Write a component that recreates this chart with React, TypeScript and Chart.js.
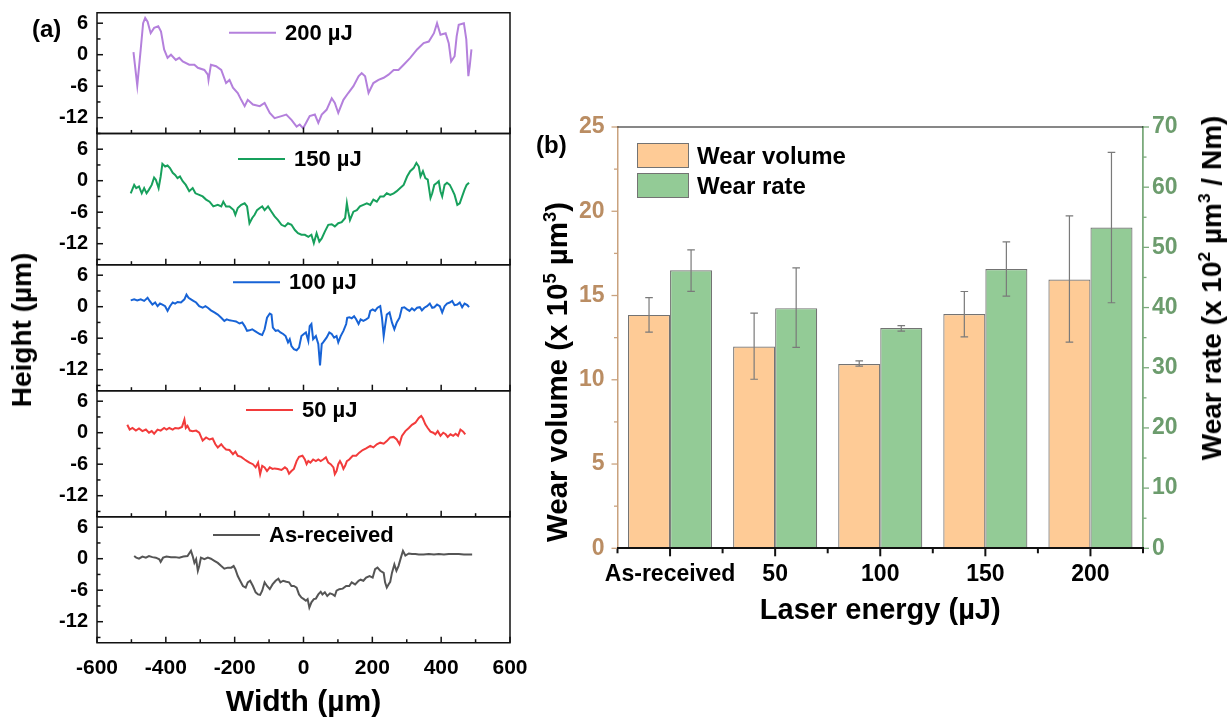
import React, { useEffect, useRef } from 'react';
import { Chart, registerables } from 'chart.js';

Chart.register(...registerables);

const FONT = "'Liberation Sans', Arial, Helvetica, sans-serif";
Chart.defaults.font.family = FONT;

// ---------------- Panel (a) data: [width (µm), height (µm)] ----------------
const PROFILE_200: [number, number][] = [
  [-494, 0.5], [-483, -5.9], [-473, 1.0], [-466, 6.0], [-460, 7.0], [-453, 6.3], [-444, 4.1], [-434, 5.1], [-422, 5.4], [-414, 4.4],
  [-405, 1.0], [-395, -0.6], [-385, 0], [-371, -1.0], [-361, -0.6], [-351, -1.3], [-332, -1.9], [-317, -1.9], [-307, -2.5], [-288, -2.9],
  [-278, -3.8], [-276, -4.8], [-269, -1.9], [-254, -2.2], [-239, -2.9], [-225, -5.4], [-215, -4.8], [-205, -6.3], [-191, -7.3], [-181, -8.6],
  [-171, -9.8], [-162, -8.6], [-147, -9.5], [-127, -9.8], [-113, -9.2], [-98, -11.1], [-84, -12.1], [-64, -11.7], [-50, -11.4], [-35, -12.4],
  [-20, -13.7], [-11, -13.3], [-1, -14.0], [18, -11.7], [33, -11.4], [43, -13.0], [53, -11.4], [67, -10.5], [82, -8.3], [91, -9.2],
  [101, -11.1], [116, -8.6], [130, -7.3], [145, -6.0], [160, -4.1], [169, -3.5], [179, -4.1], [189, -7.3], [203, -5.4], [218, -4.8],
  [233, -4.4], [247, -3.8], [262, -2.9], [276, -2.9], [291, -1.9], [310, -0.6], [330, 1.0], [349, 2.2], [364, 2.5], [379, 4.1],
  [388, 6.0], [398, 3.8], [413, 4.1], [422, 2.2], [429, -1.3], [439, -0.3], [445, 3.5], [451, 5.7], [466, 6.0], [473, 2.9],
  [479, -4.1], [483, -2.2], [488, 1.0],
];

const PROFILE_150: [number, number][] = [
  [-502, -2.4], [-492, -0.8], [-486, -1.4], [-478, -1.1], [-470, -2.4], [-463, -1.4], [-456, -2.4], [-449, -1.7], [-441, -0.8], [-434, 0.6],
  [-429, 0.2], [-421, -1.4], [-415, 0.8], [-410, 3.2], [-402, 2.7], [-395, 2.9], [-388, 2.4], [-380, 1.5], [-373, 1.1], [-366, 0.5],
  [-359, 0.8], [-351, -0.1], [-342, -0.8], [-332, -2.0], [-322, -1.4], [-314, -2.4], [-303, -2.7], [-293, -3.0], [-283, -3.6], [-273, -4.0],
  [-262, -4.9], [-249, -4.6], [-239, -4.9], [-233, -4.0], [-225, -4.9], [-215, -4.9], [-203, -5.6], [-198, -6.5], [-191, -5.2], [-181, -4.6],
  [-171, -4.3], [-164, -4.9], [-157, -8.1], [-149, -7.1], [-142, -6.5], [-135, -5.6], [-127, -5.2], [-120, -4.9], [-113, -5.6], [-103, -4.9],
  [-93, -5.9], [-84, -6.8], [-74, -7.5], [-64, -8.4], [-54, -8.7], [-45, -8.1], [-35, -8.4], [-25, -9.4], [-16, -10.0], [-6, -10.3],
  [4, -10.3], [14, -10.7], [23, -10.3], [30, -11.9], [38, -10.0], [46, -11.6], [53, -11.0], [62, -9.7], [72, -8.4], [82, -8.3],
  [91, -8.7], [101, -8.1], [111, -7.9], [121, -7.1], [126, -4.3], [130, -5.9], [135, -7.5], [145, -5.9], [155, -5.6], [164, -4.9],
  [174, -4.6], [184, -4.3], [194, -4.6], [203, -3.6], [213, -4.0], [223, -3.0], [233, -3.0], [242, -2.4], [252, -2.7], [262, -2.4],
  [271, -2.0], [281, -1.4], [291, -0.8], [301, 0.8], [310, 1.8], [320, 2.4], [328, 3.4], [335, 2.7], [340, 0.8], [347, 1.8],
  [354, 0.5], [361, 0.2], [369, -3.3], [374, -2.4], [380, -0.8], [388, -0.4], [393, -0.1], [398, -2.0], [403, -3.0], [410, -0.8],
  [417, -0.4], [425, -0.8], [432, -1.7], [439, -2.7], [447, -4.6], [454, -4.3], [461, -3.0], [468, -1.7], [474, -0.8], [481, -0.4],
];

const PROFILE_100: [number, number][] = [
  [-502, 1.2], [-492, 1.4], [-483, 1.2], [-473, 1.4], [-463, 1.1], [-453, 1.7], [-447, 1.1], [-439, 0.4], [-431, 0.8], [-424, 0.1],
  [-417, 0.6], [-410, 0.4], [-402, 0.1], [-395, -0.8], [-388, 0.1], [-380, 0.8], [-373, 0.6], [-366, 0.9], [-356, 0.8], [-346, 1.4],
  [-340, 2.3], [-334, 1.7], [-327, 1.4], [-320, 1.1], [-312, 0.8], [-303, 0.1], [-293, -0.2], [-285, 0.1], [-278, -0.2], [-269, -0.7],
  [-259, -1.1], [-249, -1.5], [-239, -2.1], [-230, -2.7], [-223, -2.4], [-215, -2.6], [-205, -2.7], [-196, -2.8], [-186, -3.2], [-178, -3.0],
  [-171, -3.7], [-164, -4.6], [-157, -4.5], [-149, -4.3], [-142, -4.6], [-135, -4.9], [-127, -5.2], [-120, -5.4], [-113, -4.3], [-106, -2.1],
  [-98, -1.3], [-93, -1.5], [-89, -4.0], [-81, -4.6], [-74, -4.5], [-67, -4.9], [-59, -5.2], [-52, -5.6], [-45, -6.8], [-40, -6.2],
  [-35, -7.5], [-28, -8.1], [-20, -8.3], [-13, -7.8], [-6, -5.6], [1, -5.2], [7, -4.9], [14, -6.5], [18, -3.7], [23, -3.3],
  [28, -6.2], [36, -5.6], [43, -7.1], [48, -11.2], [53, -7.1], [57, -6.8], [67, -5.9], [75, -4.9], [82, -5.2], [89, -5.9],
  [96, -5.6], [101, -6.8], [108, -5.6], [116, -4.6], [124, -3.3], [127, -2.1], [133, -2.0], [140, -2.2], [147, -1.8], [153, -2.4],
  [160, -3.3], [166, -2.4], [174, -2.7], [182, -2.4], [189, -2.1], [194, -0.8], [201, -0.5], [208, -0.8], [215, -0.2], [223, 0.1],
  [228, -2.1], [233, -5.6], [237, -3.7], [242, -1.5], [250, -1.1], [257, -3.0], [264, -4.3], [271, -3.0], [279, -2.1], [286, -0.2],
  [293, -0.1], [301, -0.5], [308, -0.8], [315, -0.3], [322, -0.7], [330, -0.2], [338, -0.1], [344, -0.7], [351, -0.2], [359, 0.1],
  [367, 0.6], [374, -0.2], [380, -0.1], [388, 0.4], [396, 0.1], [403, -1.1], [410, 0.1], [417, 0.6], [425, 0.8], [432, 1.1],
  [439, 0.3], [447, 0.4], [454, 0.8], [461, -0.1], [468, 0.6], [476, 0.3], [481, -0.1],
];

const PROFILE_50: [number, number][] = [
  [-512, 1.5], [-505, 0.6], [-497, 0.9], [-487, 0.4], [-478, 0.8], [-468, 0.3], [-458, 0.6], [-449, 0], [-441, 0.3], [-434, -0.2],
  [-424, 0.6], [-415, 0.4], [-405, 0.9], [-398, 0.6], [-390, 0.9], [-380, 0.6], [-373, 0.9], [-363, 0.8], [-353, 1.1], [-346, 2.5],
  [-342, 0.9], [-337, 1.3], [-330, 0.4], [-322, 0.3], [-312, 0.4], [-303, 0], [-293, -1.5], [-283, -0.9], [-273, -1.3], [-264, -1.1],
  [-256, -2.2], [-249, -2.8], [-239, -2.2], [-233, -2.7], [-225, -3.2], [-215, -3.3], [-205, -4.1], [-198, -3.6], [-191, -4.4], [-181, -4.6],
  [-171, -5.1], [-164, -5.4], [-157, -5.7], [-147, -6.0], [-139, -6.6], [-132, -5.7], [-126, -7.9], [-120, -6.3], [-113, -6.6], [-106, -7.3],
  [-98, -6.6], [-90, -6.9], [-84, -6.8], [-74, -6.9], [-64, -7.1], [-54, -6.6], [-48, -6.9], [-42, -7.8], [-35, -7.3], [-28, -6.9],
  [-20, -5.4], [-13, -4.6], [-3, -4.4], [4, -5.1], [9, -6.0], [14, -5.4], [20, -5.7], [28, -5.1], [36, -5.4], [43, -5.1],
  [50, -5.4], [57, -5.1], [65, -4.7], [72, -5.7], [79, -6.0], [87, -6.6], [91, -7.9], [96, -7.3], [101, -6.0], [106, -5.4],
  [111, -6.0], [116, -6.9], [121, -6.3], [126, -5.4], [133, -5.1], [143, -4.4], [153, -4.4], [162, -3.8], [172, -3.3], [182, -3.0],
  [194, -2.5], [203, -2.8], [213, -2.2], [223, -1.9], [233, -2.1], [242, -1.6], [252, -0.9], [262, -0.8], [271, -1.3], [279, -2.2],
  [286, -0.6], [296, 0.3], [306, 0.9], [315, 1.5], [325, 1.9], [335, 2.8], [342, 3.2], [347, 2.7], [354, 1.6], [361, 0.9],
  [369, 0.2], [377, 0], [383, -0.3], [390, 0.3], [398, -0.6], [406, 0], [413, -0.3], [419, -0.8], [427, -0.3], [435, -0.6],
  [442, -0.2], [449, -0.6], [456, 0.6], [464, 0.2], [470, -0.3],
];

const PROFILE_AS_RECEIVED: [number, number][] = [
  [-492, 0.5], [-486, 0.2], [-478, 0], [-468, 0.4], [-458, 0.2], [-449, 0.5], [-439, 0.3], [-429, 0.2], [-419, -0.1], [-415, -0.6],
  [-408, 0.2], [-398, 0.4], [-385, 0.3], [-373, 0.3], [-361, 0.2], [-349, 0.4], [-337, 0.5], [-327, 1.5], [-322, 0.5], [-317, -0.8],
  [-312, -0.1], [-307, -2.3], [-303, -1.4], [-298, 0.2], [-288, -0.1], [-278, 0.2], [-269, 0], [-259, -0.4], [-249, -0.8], [-239, -1.4],
  [-230, -1.9], [-220, -1.7], [-210, -1.7], [-203, -1.4], [-198, -2.0], [-191, -3.3], [-184, -4.2], [-176, -5.2], [-168, -5.5], [-162, -4.5],
  [-155, -4.2], [-147, -5.2], [-139, -6.4], [-132, -6.8], [-126, -6.9], [-120, -6.1], [-113, -4.5], [-106, -5.2], [-98, -5.8], [-90, -4.9],
  [-81, -4.2], [-73, -3.8], [-67, -4.5], [-59, -4.2], [-50, -4.4], [-42, -4.5], [-35, -5.2], [-28, -5.2], [-20, -5.5], [-13, -6.8],
  [-6, -7.4], [1, -7.7], [7, -8.0], [12, -7.7], [17, -9.3], [23, -8.3], [30, -7.7], [36, -7.6], [43, -6.8], [50, -6.3],
  [55, -6.8], [62, -6.4], [69, -7.1], [77, -6.6], [85, -6.8], [91, -7.1], [96, -6.1], [104, -5.8], [114, -5.7], [124, -5.2],
  [133, -5.2], [140, -4.5], [150, -4.9], [160, -4.2], [166, -4.0], [174, -4.2], [182, -3.6], [192, -3.3], [201, -3.6], [208, -2.0],
  [215, -1.7], [223, -2.3], [233, -2.7], [237, -4.5], [242, -5.5], [247, -4.9], [252, -4.4], [257, -2.7], [264, -1.1], [270, -2.3],
  [276, -1.4], [283, 0.2], [289, 1.5], [296, 0.6], [306, 1.0], [315, 0.9], [325, 0.9], [335, 0.8], [349, 0.8], [364, 0.9],
  [379, 0.8], [393, 0.9], [408, 0.8], [422, 0.9], [437, 0.9], [451, 0.9], [466, 0.8], [481, 0.8], [490, 0.8],
];

const PROFILE_LABELS = ['200 µJ', '150 µJ', '100 µJ', '50 µJ', 'As-received'];
const WIDTH_TICKS = [-600, -400, -200, 0, 200, 400, 600];
const WIDTH_MINOR = [-500, -300, -100, 100, 300, 500];
const HEIGHT_TICKS = [-12, -6, 0, 6];
const HEIGHT_MINOR = [-15, -9, -3, 3];

// ---------------- Panel (b) data ----------------
const ENERGY_LABELS = ['As-received', '50', '100', '150', '200'];
const WEAR_VOLUME = [13.85, 11.97, 10.94, 13.9, 15.95];
const WEAR_VOLUME_LOW = [12.83, 10.03, 10.81, 12.55, 12.23];
const WEAR_VOLUME_HIGH = [14.88, 13.95, 11.12, 15.24, 19.73];
const WEAR_RATE = [46.2, 39.9, 36.6, 46.4, 53.3];
const WEAR_RATE_LOW = [42.7, 33.4, 36.1, 41.9, 40.8];
const WEAR_RATE_HIGH = [49.6, 46.6, 37.0, 50.9, 65.8];
const VOLUME_TICKS = [0, 5, 10, 15, 20, 25];
const VOLUME_MINOR = [2.5, 7.5, 12.5, 17.5, 22.5];
const RATE_TICKS = [0, 10, 20, 30, 40, 50, 60, 70];
const RATE_MINOR = [5, 15, 25, 35, 45, 55, 65];

// ---------------- styles ----------------
const ORANGE = '#FECB96';
const GREEN = '#93CB96';
const BAR_EDGE = '#737373';
const BROWN_AXIS = '#C9A27E';
const BROWN_TEXT = '#BA8D63';
const GREEN_AXIS = '#7BAA7C';
const GREEN_TEXT = '#6C9C6D';

const noScalePadding = (s: any) => {
  s.paddingTop = 0;
  s.paddingBottom = 0;
  s.paddingLeft = 0;
  s.paddingRight = 0;
};

// ---------------- plugins ----------------
const framePlugin = {
  id: 'frame',
  afterDatasetsDraw(chart: any, _a: any, opts: any) {
    const { ctx, chartArea: a } = chart;
    const sides: string[] = opts.sides || [];
    if (!sides.length) return;
    ctx.save();
    ctx.strokeStyle = opts.color || '#000';
    ctx.lineWidth = opts.width || 1;
    ctx.lineCap = 'square';
    ctx.beginPath();
    for (const s of sides) {
      if (s === 'top') { ctx.moveTo(a.left, a.top); ctx.lineTo(a.right, a.top); }
      if (s === 'bottom') { ctx.moveTo(a.left, a.bottom); ctx.lineTo(a.right, a.bottom); }
      if (s === 'left') { ctx.moveTo(a.left, a.top); ctx.lineTo(a.left, a.bottom); }
      if (s === 'right') { ctx.moveTo(a.right, a.top); ctx.lineTo(a.right, a.bottom); }
    }
    ctx.stroke();
    ctx.restore();
  },
};

const tickMarksPlugin = {
  id: 'tickMarks',
  afterDatasetsDraw(chart: any, _a: any, opts: any) {
    const { ctx, chartArea: a } = chart;
    const defs: any[] = opts.defs || [];
    ctx.save();
    for (const d of defs) {
      const s = chart.scales[d.id];
      if (!s) continue;
      ctx.strokeStyle = d.color;
      ctx.lineWidth = d.width;
      const inRange = (v: number) => v >= Math.min(s.min, s.max) - 1e-9 && v <= Math.max(s.min, s.max) + 1e-9;
      const mark = (v: number, len: number) => {
        if (!d.category && !inRange(v)) return;
        ctx.beginPath();
        if (d.edge === 'bottom' || d.edge === 'top') {
          const x = s.getPixelForValue(v);
          const y0 = d.edge === 'bottom' ? a.bottom : a.top;
          const sign = (d.edge === 'bottom' ? 1 : -1) * (d.inward ? -1 : 1);
          ctx.moveTo(x, y0);
          ctx.lineTo(x, y0 + sign * len);
        } else {
          const y = s.getPixelForValue(v);
          const x0 = d.edge === 'left' ? a.left : a.right;
          const sign = (d.edge === 'left' ? -1 : 1) * (d.inward ? -1 : 1);
          ctx.moveTo(x0, y);
          ctx.lineTo(x0 + sign * len, y);
        }
        ctx.stroke();
      };
      d.major.forEach((v: number) => mark(v, d.len));
      d.minor.forEach((v: number) => mark(v, d.minorLen));
    }
    ctx.restore();
  },
};

const inlineLegendPlugin = {
  id: 'inlineLegend',
  afterDatasetsDraw(chart: any, _a: any, opts: any) {
    if (opts.dx === undefined) return;
    const ds = chart.data.datasets[0];
    const { ctx, chartArea: a } = chart;
    const x0 = a.left + opts.dx;
    const y = a.top + opts.dy;
    ctx.save();
    ctx.strokeStyle = ds.borderColor;
    ctx.lineWidth = 2;
    ctx.beginPath();
    ctx.moveTo(x0, y);
    ctx.lineTo(x0 + opts.lineLen, y);
    ctx.stroke();
    ctx.fillStyle = '#000';
    ctx.font = `bold ${opts.size}px ${FONT}`;
    ctx.textAlign = 'left';
    ctx.textBaseline = 'middle';
    ctx.fillText(ds.label, x0 + opts.lineLen + opts.gap, y + 1);
    ctx.restore();
  },
};

const errorBarPlugin = {
  id: 'errorBars',
  afterDatasetsDraw(chart: any, _a: any, opts: any) {
    const { ctx } = chart;
    ctx.save();
    ctx.strokeStyle = opts.color || '#777';
    ctx.lineWidth = opts.width || 1;
    chart.data.datasets.forEach((ds: any, i: number) => {
      if (!ds.errLow) return;
      const meta = chart.getDatasetMeta(i);
      const ys = chart.scales[meta.yAxisID];
      meta.data.forEach((bar: any, j: number) => {
        const x = bar.x;
        const yl = ys.getPixelForValue(ds.errLow[j]);
        const yh = ys.getPixelForValue(ds.errHigh[j]);
        const c = opts.cap || 4;
        ctx.beginPath();
        ctx.moveTo(x, yl); ctx.lineTo(x, yh);
        ctx.moveTo(x - c, yl); ctx.lineTo(x + c, yl);
        ctx.moveTo(x - c, yh); ctx.lineTo(x + c, yh);
        ctx.stroke();
      });
    });
    ctx.restore();
  },
};

// ---------------- Panel (a) ----------------
const PXU = 5.25; // pixels per µm of height
const A_CANVAS_W = 540;
const A_AREA_LEFT = 97;
const A_AREA_RIGHT = 510;
const A_FIRST_TOP = 12.7;
const A_XAXIS_H = 78;

type ProfileCfg = { points: [number, number][]; label: string; color: string; yMin: number; yMax: number; legendDx: number; legendDy: number };

const PROFILES: ProfileCfg[] = [
  { points: PROFILE_200, label: PROFILE_LABELS[0], color: '#B480DC', yMin: -15, yMax: 8, legendDx: 132, legendDy: 20 },
  { points: PROFILE_150, label: PROFILE_LABELS[1], color: '#17A05C', yMin: -16, yMax: 9, legendDx: 141, legendDy: 25.5 },
  { points: PROFILE_100, label: PROFILE_LABELS[2], color: '#1763D6', yMin: -16, yMax: 8, legendDx: 136, legendDy: 17.6 },
  { points: PROFILE_50, label: PROFILE_LABELS[3], color: '#F23B3B', yMin: -16, yMax: 8, legendDx: 149, legendDy: 19.3 },
  { points: PROFILE_AS_RECEIVED, label: PROFILE_LABELS[4], color: '#555555', yMin: -16, yMax: 8, legendDx: 116, legendDy: 18.3 },
];

function ProfilePlot({ p, areaTop, showX }: { p: ProfileCfg; areaTop: number; showX: boolean }) {
  const ref = useRef<HTMLCanvasElement>(null);
  const areaH = (p.yMax - p.yMin) * PXU;
  const canvasTop = Math.floor(areaTop - 6);
  const padTop = areaTop - canvasTop;
  const canvasH = Math.ceil(padTop + areaH + (showX ? A_XAXIS_H : 6));
  const rest = canvasH - padTop - areaH;

  useEffect(() => {
    const chart = new Chart(ref.current as HTMLCanvasElement, {
      type: 'line',
      data: {
        datasets: [{
          label: p.label,
          data: p.points.map(([x, y]) => ({ x, y })),
          borderColor: p.color,
          borderWidth: 2,
          pointRadius: 0,
          fill: false,
          tension: 0,
        }],
      },
      options: {
        animation: false,
        responsive: false,
        maintainAspectRatio: false,
        events: [],
        layout: { padding: { left: 0, right: A_CANVAS_W - A_AREA_RIGHT, top: padTop, bottom: 0 } },
        plugins: {
          legend: { display: false },
          tooltip: { enabled: false },
          frame: { sides: ['top', 'right', 'bottom', 'left'], color: '#111', width: 1.5 },
          tickMarks: {
            defs: [
              { id: 'x', edge: 'bottom', major: WIDTH_TICKS, minor: WIDTH_MINOR, len: 6, minorLen: 3.5, inward: true, color: '#111', width: 1.5 },
              { id: 'y', edge: 'left', major: HEIGHT_TICKS, minor: HEIGHT_MINOR, len: 6, minorLen: 3.5, inward: true, color: '#111', width: 1.5 },
            ],
          },
          inlineLegend: { dx: p.legendDx, dy: p.legendDy, lineLen: 47, gap: 9, size: 22 },
        } as any,
        scales: {
          x: {
            type: 'linear', min: -600, max: 600, display: showX,
            afterBuildTicks: (s: any) => { s.ticks = WIDTH_TICKS.map((v) => ({ value: v })); },
            afterFit: (s: any) => { s.height = rest; noScalePadding(s); },
            grid: { display: false, drawTicks: false },
            border: { display: false },
            ticks: { padding: 13, color: '#000', font: { size: 21, weight: 'bold' }, maxRotation: 0, autoSkip: false },
            title: { display: true, text: 'Width (µm)', color: '#000', font: { size: 30, weight: 'bold', lineHeight: 1.2 }, padding: { top: 0, bottom: 0 } },
          },
          y: {
            type: 'linear', min: p.yMin, max: p.yMax,
            afterBuildTicks: (s: any) => { s.ticks = HEIGHT_TICKS.map((v) => ({ value: v })); },
            afterFit: (s: any) => { s.width = A_AREA_LEFT; noScalePadding(s); },
            grid: { display: false, drawTicks: false },
            border: { display: false },
            ticks: { padding: 9, color: '#000', font: { size: 20, weight: 'bold' } },
          },
        } as any,
      },
      plugins: [framePlugin, tickMarksPlugin, inlineLegendPlugin] as any,
    });
    return () => chart.destroy();
  }, []);

  return (
    <canvas
      ref={ref}
      width={A_CANVAS_W}
      height={canvasH}
      style={{ position: 'absolute', left: 0, top: canvasTop, width: A_CANVAS_W, height: canvasH }}
    />
  );
}

// ---------------- Panel (b) ----------------
const B_LEFT = 520;
const B_TOP = 100;
const B_W = 709;
const B_H = 540;

function WearChart() {
  const ref = useRef<HTMLCanvasElement>(null);
  useEffect(() => {
    const idx = ENERGY_LABELS.map((_, i) => i);
    const bounds = [-0.5, ...idx.map((i) => i + 0.5)];
    const chart = new Chart(ref.current as HTMLCanvasElement, {
      type: 'bar',
      data: {
        labels: ENERGY_LABELS,
        datasets: [
          {
            label: 'Wear volume', data: WEAR_VOLUME, yAxisID: 'y',
            errLow: WEAR_VOLUME_LOW, errHigh: WEAR_VOLUME_HIGH,
            backgroundColor: ORANGE, borderColor: BAR_EDGE, borderWidth: 1.2, borderSkipped: false,
            categoryPercentage: 0.8, barPercentage: 1.0,
          } as any,
          {
            label: 'Wear rate', data: WEAR_RATE, yAxisID: 'y1',
            errLow: WEAR_RATE_LOW, errHigh: WEAR_RATE_HIGH,
            backgroundColor: GREEN, borderColor: BAR_EDGE, borderWidth: 1.2, borderSkipped: false,
            categoryPercentage: 0.8, barPercentage: 1.0,
          } as any,
        ],
      },
      options: {
        animation: false,
        responsive: false,
        maintainAspectRatio: false,
        events: [],
        layout: { padding: { left: 0, right: 0, top: 27, bottom: 0 } },
        plugins: {
          legend: { display: false },
          tooltip: { enabled: false },
          frame: { sides: ['top'], color: '#111', width: 1.2 },
          errorBars: { color: '#7A7A7A', width: 1.2, cap: 3.8 },
          tickMarks: {
            defs: [
              { id: 'x', edge: 'bottom', category: true, major: idx, minor: bounds, len: 8, minorLen: 5, inward: false, color: '#111', width: 2 },
              { id: 'y', edge: 'left', major: VOLUME_TICKS, minor: VOLUME_MINOR, len: 6, minorLen: 3.5, inward: false, color: BROWN_AXIS, width: 1.3 },
              { id: 'y1', edge: 'right', major: RATE_TICKS, minor: RATE_MINOR, len: 6, minorLen: 3.5, inward: false, color: GREEN_AXIS, width: 1.3 },
            ],
          },
        } as any,
        scales: {
          x: {
            type: 'category',
            afterFit: (s: any) => { s.height = B_H - 27 - 421.3; noScalePadding(s); },
            grid: { display: false, drawTicks: false },
            border: { display: true, color: '#111', width: 2, z: 1 },
            ticks: { padding: 13, color: '#000', font: { size: 23, weight: 'bold' }, maxRotation: 0, autoSkip: false },
            title: { display: true, text: 'Laser energy (µJ)', color: '#000', font: { size: 29, weight: 'bold', lineHeight: 1.2 }, padding: { top: 0, bottom: 12 } },
          },
          y: {
            type: 'linear', position: 'left', min: 0, max: 25,
            afterBuildTicks: (s: any) => { s.ticks = VOLUME_TICKS.map((v) => ({ value: v })); },
            afterFit: (s: any) => { s.width = 97.5; noScalePadding(s); },
            grid: { display: false, drawTicks: false },
            border: { display: true, color: BROWN_AXIS, width: 1.5 },
            ticks: { padding: 13, color: BROWN_TEXT, font: { size: 23, weight: 'bold' } },
          },
          y1: {
            type: 'linear', position: 'right', min: 0, max: 70,
            afterBuildTicks: (s: any) => { s.ticks = RATE_TICKS.map((v) => ({ value: v })); },
            afterFit: (s: any) => { s.width = B_LEFT + B_W - 1143; noScalePadding(s); },
            grid: { display: false, drawTicks: false },
            border: { display: true, color: GREEN_AXIS, width: 1.8 },
            ticks: { padding: 9, color: GREEN_TEXT, font: { size: 23, weight: 'bold' } },
          },
        } as any,
      },
      plugins: [framePlugin, errorBarPlugin, tickMarksPlugin] as any,
    });
    return () => chart.destroy();
  }, []);
  return (
    <canvas
      ref={ref}
      width={B_W}
      height={B_H}
      style={{ position: 'absolute', left: B_LEFT, top: B_TOP, width: B_W, height: B_H }}
    />
  );
}

const supStyle: React.CSSProperties = { fontSize: '0.62em', position: 'relative', top: '-0.62em', verticalAlign: 'baseline' };

function RotLabel({ cx, cy, size, children }: { cx: number; cy: number; size: number; children: React.ReactNode }) {
  return (
    <div
      style={{
        position: 'absolute', left: cx, top: cy, transform: 'translate(-50%, -50%) rotate(-90deg)',
        whiteSpace: 'nowrap', fontSize: size, fontWeight: 'bold', lineHeight: 1, color: '#000',
      }}
    >
      {children}
    </div>
  );
}

export default function App() {
  let top = A_FIRST_TOP;
  const tops = PROFILES.map((p) => {
    const t = top;
    top += (p.yMax - p.yMin) * PXU;
    return t;
  });

  return (
    <div style={{ position: 'fixed', left: 0, top: 0, width: 1229, height: 721, background: '#fff', overflow: 'hidden', fontFamily: FONT }}>
      {PROFILES.map((p, i) => (
        <ProfilePlot key={p.label} p={p} areaTop={tops[i]} showX={i === PROFILES.length - 1} />
      ))}
      <WearChart />

      <div style={{ position: 'absolute', left: 32, top: 17, fontSize: 24, fontWeight: 'bold', lineHeight: 1 }}>(a)</div>
      <div style={{ position: 'absolute', left: 536, top: 133, fontSize: 24, fontWeight: 'bold', lineHeight: 1 }}>(b)</div>

      <RotLabel cx={22} cy={330} size={28}>Height (µm)</RotLabel>
      <RotLabel cx={557} cy={372} size={29.5}>
        Wear volume (x 10<span style={supStyle}>5</span> µm<span style={supStyle}>3</span>)
      </RotLabel>
      <RotLabel cx={1212} cy={288} size={28}>
        Wear rate (x 10<span style={supStyle}>2</span> µm<span style={supStyle}>3</span> / Nm)
      </RotLabel>

      <div style={{ position: 'absolute', left: 637, top: 143, width: 52, height: 25, background: ORANGE, border: `1px solid ${BAR_EDGE}`, boxSizing: 'border-box' }} />
      <div style={{ position: 'absolute', left: 697, top: 143, height: 25, lineHeight: '25px', fontSize: 24, fontWeight: 'bold' }}>Wear volume</div>
      <div style={{ position: 'absolute', left: 637, top: 173, width: 52, height: 25, background: GREEN, border: `1px solid ${BAR_EDGE}`, boxSizing: 'border-box' }} />
      <div style={{ position: 'absolute', left: 697, top: 173, height: 25, lineHeight: '25px', fontSize: 24, fontWeight: 'bold' }}>Wear rate</div>
    </div>
  );
}
